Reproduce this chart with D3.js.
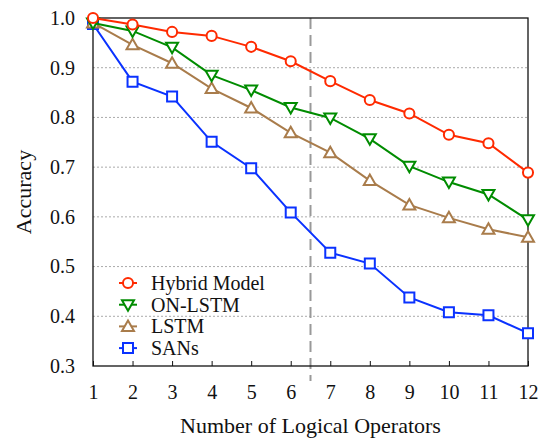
<!DOCTYPE html>
<html><head><meta charset="utf-8">
<script src="https://cdn.jsdelivr.net/npm/d3@7"></script>
<style>body{margin:0;background:#fff}svg{display:block}</style>
</head><body>
<script>
const operators = [1,2,3,4,5,6,7,8,9,10,11,12];
const hybrid = [1.0,0.987,0.972,0.964,0.942,0.913,0.873,0.835,0.808,0.765,0.748,0.689];
const onlstm = [0.990,0.974,0.941,0.885,0.855,0.820,0.799,0.757,0.702,0.670,0.645,0.594];
const lstm = [0.990,0.946,0.909,0.858,0.819,0.769,0.729,0.673,0.624,0.598,0.575,0.559];
const sans = [0.988,0.872,0.842,0.751,0.698,0.609,0.528,0.506,0.438,0.408,0.402,0.366];
const yTicks = [0.3,0.4,0.5,0.6,0.7,0.8,0.9,1.0];
const seriesNames = ["Hybrid Model","ON-LSTM","LSTM","SANs"];
const seriesColors = ["#ff2a00","#008c00","#a97c4b","#0a32ff"];
const seriesShapes = ["circle","triDown","triUp","square"];
const seriesData = [hybrid, onlstm, lstm, sans];
const splitAt = 6.5;

const FONT = "'Liberation Serif', 'Times New Roman', Times, serif";
const W=544,H=439;
const m={l:93,r:16,t:18,b:73};
const svg=d3.select("body").append("svg").attr("width",W).attr("height",H).attr("font-family",FONT);
const x=d3.scaleLinear().domain([1,12]).range([m.l,W-m.r]);
const y=d3.scaleLinear().domain([0.3,1.0]).range([H-m.b,m.t]);

svg.append("g").selectAll("line").data(yTicks.filter(v=>v>0.3&&v<1.0)).join("line")
 .attr("x1",m.l).attr("x2",W-m.r).attr("y1",d=>y(d)).attr("y2",d=>y(d))
 .attr("stroke","#aaa").attr("stroke-width",1).attr("stroke-dasharray","2,2");

svg.append("line").attr("x1",x(splitAt)).attr("x2",x(splitAt)).attr("y1",m.t).attr("y2",H-m.b+15)
 .attr("stroke","#999").attr("stroke-width",2).attr("stroke-dasharray","11,6");

const xAxis=d3.axisBottom(x).tickValues(operators).tickSize(-5).tickPadding(19).tickFormat(d3.format("d"));
const gx=svg.append("g").attr("transform",`translate(0,${H-m.b})`).call(xAxis);
const yAxis=d3.axisLeft(y).tickValues(yTicks).tickSize(0).tickPadding(18).tickFormat(d3.format(".1f"));
const gy=svg.append("g").attr("transform",`translate(${m.l},0)`).call(yAxis);
[gx,gy].forEach(g=>{g.attr("font-family",FONT).attr("font-size",20);g.select(".domain").remove();g.selectAll("text").attr("fill","#111").style("font-family",FONT).style("font-size","20px");g.selectAll("line").attr("stroke","#111")});

svg.append("rect").attr("x",m.l).attr("y",m.t).attr("width",W-m.r-m.l).attr("height",H-m.b-m.t)
 .attr("fill","none").attr("stroke","#111").attr("stroke-width",1.3);

function shapePath(shape){
  if(shape==="circle") return d3.symbol(d3.symbolCircle,80)();
  if(shape==="square") return "M-5,-5H5V5H-5Z";
  if(shape==="triUp") return "M0,-6L6,4.5H-6Z";
  return "M0,6L6,-4.5H-6Z";
}

const line=d3.line().x((d,i)=>x(operators[i])).y(d=>y(d));
for(let s=seriesData.length-1;s>=0;s--){
  const g=svg.append("g");
  g.append("path").datum(seriesData[s]).attr("d",line).attr("fill","none")
   .attr("stroke",seriesColors[s]).attr("stroke-width",2);
  g.selectAll("path.m").data(seriesData[s]).join("path").attr("class","m")
   .attr("d",shapePath(seriesShapes[s]))
   .attr("transform",(d,i)=>`translate(${x(operators[i])},${y(d)})`)
   .attr("fill","#fff").attr("stroke",seriesColors[s]).attr("stroke-width",2);
}

const lg=svg.append("g");
seriesNames.forEach((n,i)=>{
  const yy=283+i*21.7;
  lg.append("line").attr("x1",119).attr("x2",137).attr("y1",yy).attr("y2",yy).attr("stroke",seriesColors[i]).attr("stroke-width",2);
  lg.append("path").attr("d",shapePath(seriesShapes[i])).attr("transform",`translate(128,${yy})`)
   .attr("fill","#fff").attr("stroke",seriesColors[i]).attr("stroke-width",2);
  lg.append("text").attr("x",151).attr("y",yy).attr("dy","0.35em").attr("fill","#111").style("font-family",FONT).style("font-size","20px").text(n);
});

svg.append("text").attr("x",(m.l+W-m.r)/2).attr("y",433).attr("text-anchor","middle").attr("fill","#111").style("font-family",FONT).style("font-size","22px").text("Number of Logical Operators");
svg.append("text").attr("transform",`translate(31,${(m.t+H-m.b)/2}) rotate(-90)`).attr("text-anchor","middle").attr("fill","#111").style("font-family",FONT).style("font-size","22px").text("Accuracy");
</script>
</body></html>
